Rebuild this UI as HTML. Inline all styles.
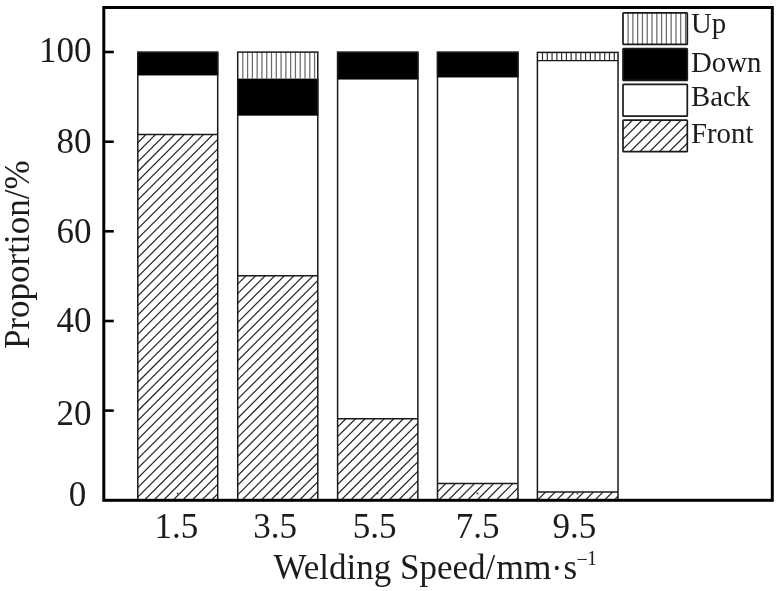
<!DOCTYPE html>
<html><head><meta charset="utf-8"><title>chart</title>
<style>
html,body{margin:0;padding:0;background:#fff;}
body{width:780px;height:591px;overflow:hidden;font-family:"Liberation Serif",serif;}
svg{display:block;position:absolute;left:0;top:0;will-change:transform;}
text{font-family:"Liberation Serif",serif;fill:#1c1c1c;}
</style></head><body>
<svg width="780" height="591" viewBox="0 0 780 591">
<rect x="0" y="0" width="780" height="591" fill="#ffffff"/>

<clipPath id="c1"><rect x="137.80" y="134.40" width="79.90" height="365.90"/></clipPath>
<path clip-path="url(#c1)" d="M136.80,143.70L147.10,133.40M136.80,153.28L156.68,133.40M136.80,162.86L166.26,133.40M136.80,172.44L175.84,133.40M136.80,182.02L185.42,133.40M136.80,191.60L195.00,133.40M136.80,201.18L204.58,133.40M136.80,210.76L214.16,133.40M136.80,220.34L218.70,138.44M136.80,229.92L218.70,148.02M136.80,239.50L218.70,157.60M136.80,249.08L218.70,167.18M136.80,258.66L218.70,176.76M136.80,268.24L218.70,186.34M136.80,277.82L218.70,195.92M136.80,287.40L218.70,205.50M136.80,296.98L218.70,215.08M136.80,306.56L218.70,224.66M136.80,316.14L218.70,234.24M136.80,325.72L218.70,243.82M136.80,335.30L218.70,253.40M136.80,344.88L218.70,262.98M136.80,354.46L218.70,272.56M136.80,364.04L218.70,282.14M136.80,373.62L218.70,291.72M136.80,383.20L218.70,301.30M136.80,392.78L218.70,310.88M136.80,402.36L218.70,320.46M136.80,411.94L218.70,330.04M136.80,421.52L218.70,339.62M136.80,431.10L218.70,349.20M136.80,440.68L218.70,358.78M136.80,450.26L218.70,368.36M136.80,459.84L218.70,377.94M136.80,469.42L218.70,387.52M136.80,479.00L218.70,397.10M136.80,488.58L218.70,406.68M136.80,498.16L218.70,416.26M143.24,501.30L218.70,425.84M152.82,501.30L218.70,435.42M162.40,501.30L218.70,445.00M171.98,501.30L218.70,454.58M181.56,501.30L218.70,464.16M191.14,501.30L218.70,473.74M200.72,501.30L218.70,483.32M210.30,501.30L218.70,492.90" stroke="#2c2c2c" stroke-width="1.25" fill="none"/>
<rect x="137.15" y="51.65" width="81.20" height="23.80" fill="#000"/>
<rect x="137.80" y="52.30" width="79.90" height="448.00" fill="none" stroke="#1a1a1a" stroke-width="1.5"/>
<line x1="137.80" x2="217.70" y1="134.40" y2="134.40" stroke="#1a1a1a" stroke-width="1.5"/>
<rect x="176.8" y="492.7" width="1.6" height="1.6" fill="#333"/>
<clipPath id="c2"><rect x="237.70" y="275.80" width="80.08" height="224.50"/></clipPath>
<path clip-path="url(#c2)" d="M236.70,285.10L247.00,274.80M236.70,294.68L256.58,274.80M236.70,304.26L266.16,274.80M236.70,313.84L275.74,274.80M236.70,323.42L285.32,274.80M236.70,333.00L294.90,274.80M236.70,342.58L304.48,274.80M236.70,352.16L314.06,274.80M236.70,361.74L318.78,279.66M236.70,371.32L318.78,289.24M236.70,380.90L318.78,298.82M236.70,390.48L318.78,308.40M236.70,400.06L318.78,317.98M236.70,409.64L318.78,327.56M236.70,419.22L318.78,337.14M236.70,428.80L318.78,346.72M236.70,438.38L318.78,356.30M236.70,447.96L318.78,365.88M236.70,457.54L318.78,375.46M236.70,467.12L318.78,385.04M236.70,476.70L318.78,394.62M236.70,486.28L318.78,404.20M236.70,495.86L318.78,413.78M240.84,501.30L318.78,423.36M250.42,501.30L318.78,432.94M260.00,501.30L318.78,442.52M269.58,501.30L318.78,452.10M279.16,501.30L318.78,461.68M288.74,501.30L318.78,471.26M298.32,501.30L318.78,480.84M307.90,501.30L318.78,490.42" stroke="#2c2c2c" stroke-width="1.25" fill="none"/>
<rect x="237.05" y="78.60" width="81.38" height="37.05" fill="#000"/>
<path d="M242.80,52.10V78.60M247.59,52.10V78.60M252.37,52.10V78.60M257.16,52.10V78.60M261.94,52.10V78.60M266.73,52.10V78.60M271.51,52.10V78.60M276.30,52.10V78.60M281.08,52.10V78.60M285.87,52.10V78.60M290.65,52.10V78.60M295.44,52.10V78.60M300.22,52.10V78.60M305.01,52.10V78.60M309.79,52.10V78.60M314.58,52.10V78.60" stroke="#6c6c6c" stroke-width="1.25" fill="none"/>
<rect x="237.70" y="52.10" width="80.08" height="448.20" fill="none" stroke="#1a1a1a" stroke-width="1.5"/>
<line x1="237.70" x2="317.78" y1="275.80" y2="275.80" stroke="#1a1a1a" stroke-width="1.5"/>
<rect x="276.7" y="492.7" width="1.6" height="1.6" fill="#333"/>
<clipPath id="c3"><rect x="337.60" y="418.70" width="80.26" height="81.60"/></clipPath>
<path clip-path="url(#c3)" d="M336.60,428.00L346.90,417.70M336.60,437.58L356.48,417.70M336.60,447.16L366.06,417.70M336.60,456.74L375.64,417.70M336.60,466.32L385.22,417.70M336.60,475.90L394.80,417.70M336.60,485.48L404.38,417.70M336.60,495.06L413.96,417.70M339.94,501.30L418.86,422.38M349.52,501.30L418.86,431.96M359.10,501.30L418.86,441.54M368.68,501.30L418.86,451.12M378.26,501.30L418.86,460.70M387.84,501.30L418.86,470.28M397.42,501.30L418.86,479.86M407.00,501.30L418.86,489.44M416.58,501.30L418.86,499.02" stroke="#2c2c2c" stroke-width="1.25" fill="none"/>
<rect x="336.95" y="51.65" width="81.56" height="27.90" fill="#000"/>
<rect x="337.60" y="52.30" width="80.26" height="448.00" fill="none" stroke="#1a1a1a" stroke-width="1.5"/>
<line x1="337.60" x2="417.86" y1="418.70" y2="418.70" stroke="#1a1a1a" stroke-width="1.5"/>
<rect x="376.7" y="492.7" width="1.6" height="1.6" fill="#333"/>
<clipPath id="c4"><rect x="437.50" y="483.50" width="80.44" height="16.80"/></clipPath>
<path clip-path="url(#c4)" d="M436.50,492.80L446.80,482.50M437.58,501.30L456.38,482.50M447.16,501.30L465.96,482.50M456.74,501.30L475.54,482.50M466.32,501.30L485.12,482.50M475.90,501.30L494.70,482.50M485.48,501.30L504.28,482.50M495.06,501.30L513.86,482.50M504.64,501.30L518.94,487.00M514.22,501.30L518.94,496.58" stroke="#2c2c2c" stroke-width="1.25" fill="none"/>
<rect x="436.85" y="51.65" width="81.74" height="25.80" fill="#000"/>
<rect x="437.50" y="52.30" width="80.44" height="448.00" fill="none" stroke="#1a1a1a" stroke-width="1.5"/>
<line x1="437.50" x2="517.94" y1="483.50" y2="483.50" stroke="#1a1a1a" stroke-width="1.5"/>
<rect x="476.7" y="492.7" width="1.6" height="1.6" fill="#333"/>
<clipPath id="c5"><rect x="537.40" y="491.90" width="80.62" height="8.40"/></clipPath>
<path clip-path="url(#c5)" d="M536.40,501.20L546.70,490.90M545.88,501.30L556.28,490.90M555.46,501.30L565.86,490.90M565.04,501.30L575.44,490.90M574.62,501.30L585.02,490.90M584.20,501.30L594.60,490.90M593.78,501.30L604.18,490.90M603.36,501.30L613.76,490.90M612.94,501.30L619.02,495.22" stroke="#2c2c2c" stroke-width="1.25" fill="none"/>
<path d="M542.50,52.40V60.60M547.29,52.40V60.60M552.07,52.40V60.60M556.86,52.40V60.60M561.64,52.40V60.60M566.42,52.40V60.60M571.21,52.40V60.60M575.99,52.40V60.60M580.78,52.40V60.60M585.56,52.40V60.60M590.35,52.40V60.60M595.13,52.40V60.60M599.92,52.40V60.60M604.70,52.40V60.60M609.49,52.40V60.60M614.27,52.40V60.60" stroke="#333" stroke-width="1.2" fill="none"/>
<line x1="537.40" x2="618.02" y1="60.60" y2="60.60" stroke="#1a1a1a" stroke-width="1.4"/>
<rect x="537.40" y="52.40" width="80.62" height="447.90" fill="none" stroke="#1a1a1a" stroke-width="1.5"/>
<line x1="537.40" x2="618.02" y1="491.90" y2="491.90" stroke="#1a1a1a" stroke-width="1.5"/>
<rect x="576.7" y="492.7" width="1.6" height="1.6" fill="#333"/>
<rect x="103.8" y="7.5" width="668.5" height="492.8" fill="none" stroke="#000" stroke-width="3"/>
<line x1="104" x2="113.8" y1="410.6" y2="410.6" stroke="#000" stroke-width="2.6"/>
<line x1="104" x2="113.8" y1="321.0" y2="321.0" stroke="#000" stroke-width="2.6"/>
<line x1="104" x2="113.8" y1="231.3" y2="231.3" stroke="#000" stroke-width="2.6"/>
<line x1="104" x2="113.8" y1="141.7" y2="141.7" stroke="#000" stroke-width="2.6"/>
<line x1="104" x2="113.8" y1="52.0" y2="52.0" stroke="#000" stroke-width="2.6"/>
<text x="91.4" y="61.5" font-size="35" text-anchor="end">100</text>
<text x="91.4" y="153.2" font-size="35" text-anchor="end">80</text>
<text x="91.4" y="243.4" font-size="35" text-anchor="end">60</text>
<text x="91.4" y="332.2" font-size="35" text-anchor="end">40</text>
<text x="91.4" y="425.0" font-size="35" text-anchor="end">20</text>
<text x="86.2" y="506.3" font-size="35" text-anchor="end">0</text>
<text x="198.20000000000002" y="538" font-size="35" text-anchor="end">1.5</text>
<text x="296.90000000000003" y="538" font-size="35" text-anchor="end">3.5</text>
<text x="396.40000000000003" y="538" font-size="35" text-anchor="end">5.5</text>
<text x="499.40000000000003" y="538" font-size="35" text-anchor="end">7.5</text>
<text x="596.3" y="538" font-size="35" text-anchor="end">9.5</text>
<text x="273.6" y="579.3" font-size="35">Welding Speed/</text>
<text x="496.2" y="579.3" font-size="35.6">mm</text>
<text x="551.0" y="579.9" font-size="35">·</text>
<text x="563.5" y="579.3" font-size="35">s</text>
<text x="576.6" y="566" font-size="20" fill="#666">−</text>
<text x="587" y="565" font-size="20">1</text>
<text transform="translate(29.2,349) rotate(-90)" font-size="35">Proportion/%</text>
<path d="M628.10,12.80V44.40M632.88,12.80V44.40M637.67,12.80V44.40M642.45,12.80V44.40M647.24,12.80V44.40M652.02,12.80V44.40M656.81,12.80V44.40M661.59,12.80V44.40M666.38,12.80V44.40M671.16,12.80V44.40M675.95,12.80V44.40M680.73,12.80V44.40M685.52,12.80V44.40" stroke="#6c6c6c" stroke-width="1.25" fill="none"/>
<rect x="623.0" y="12.8" width="64.30" height="31.60" rx="0.7" fill="none" stroke="#1a1a1a" stroke-width="1.7"/>
<text x="691" y="32.7" font-size="28.8">Up</text>
<rect x="623.0" y="48.7" width="64.30" height="31.70" rx="0.7" fill="#000" stroke="#1a1a1a" stroke-width="1.7"/>
<text x="691" y="71.5" font-size="28.8">Down</text>
<rect x="623.0" y="84.3" width="64.30" height="31.80" rx="0.7" fill="none" stroke="#1a1a1a" stroke-width="1.7"/>
<text x="691" y="106.1" font-size="28.8">Back</text>
<clipPath id="c6"><rect x="623.00" y="120.20" width="64.30" height="31.40"/></clipPath>
<path clip-path="url(#c6)" d="M622.00,130.60L633.40,119.20M622.00,140.34L643.14,119.20M622.00,150.08L652.88,119.20M629.22,152.60L662.62,119.20M638.96,152.60L672.36,119.20M648.70,152.60L682.10,119.20M658.44,152.60L688.30,122.74M668.18,152.60L688.30,132.48M677.92,152.60L688.30,142.22" stroke="#2c2c2c" stroke-width="1.3" fill="none"/>
<rect x="623.0" y="120.2" width="64.30" height="31.40" rx="0.7" fill="none" stroke="#1a1a1a" stroke-width="1.7"/>
<text x="691" y="143.0" font-size="28.8">Front</text>
</svg></body></html>
